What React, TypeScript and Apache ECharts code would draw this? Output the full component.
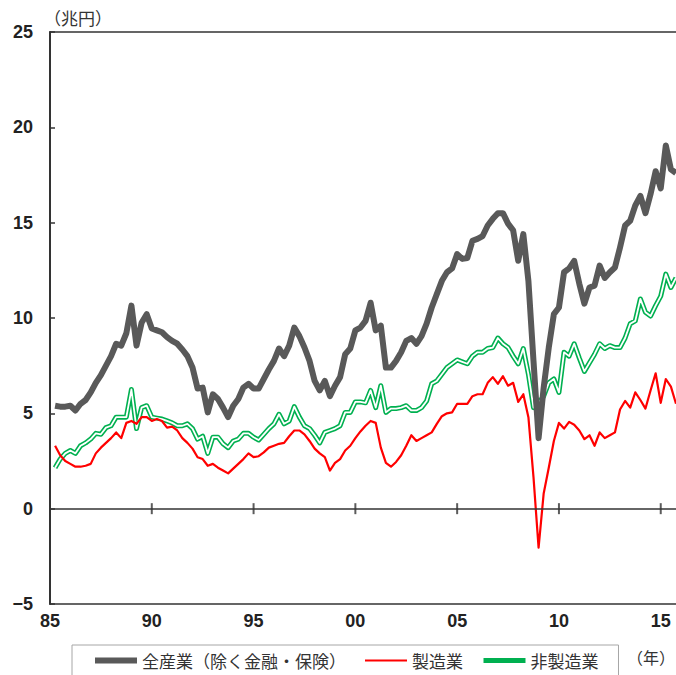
import React, { useEffect, useRef } from "react";
import * as echarts from "echarts";

// Quarterly categories 1985Q1 .. 2015Q4
const firstYear = 1985;
const lastYear = 2015;
const quarters: string[] = [];
for (let y = firstYear; y <= lastYear; y++) {
  for (let q = 1; q <= 4; q++) quarters.push(`${y}Q${q}`);
}
// data begin in 1985Q2
const dataQuarters = quarters.slice(1);

const seriesNames = ["全産業（除く金融・保険）", "製造業", "非製造業"];

// 全産業（除く金融・保険） (兆円)
const allIndustries = [
  5.4, 5.35, 5.35, 5.4, 5.15, 5.5, 5.7, 6.1, 6.6, 7.0, 7.5, 8.0, 8.65, 8.55, 9.2, 10.65, 8.55, 9.75, 10.2, 9.45,
  9.35, 9.25, 9.0, 8.8, 8.65, 8.35, 8.0, 7.4, 6.3, 6.35, 5.05, 6.0, 5.75, 5.3, 4.8, 5.4, 5.75, 6.35, 6.55, 6.3,
  6.3, 6.8, 7.3, 7.75, 8.4, 8.0, 8.55, 9.5, 9.05, 8.45, 7.75, 6.7, 6.2, 6.7, 5.9, 6.45, 6.9, 8.1, 8.4, 9.35,
  9.5, 9.85, 10.8, 9.35, 9.6, 7.4, 7.4, 7.75, 8.2, 8.8, 8.95, 8.65, 9.05, 9.7, 10.55, 11.25, 11.95, 12.4, 12.6, 13.35,
  13.1, 13.15, 14.05, 14.15, 14.3, 14.85, 15.2, 15.5, 15.5, 14.95, 14.6, 13.0, 14.4, 11.95, 7.75, 3.7, 6.35, 8.45, 10.2, 10.55,
  12.4, 12.6, 13.0, 11.8, 10.75, 11.6, 11.7, 12.75, 12.1, 12.4, 12.65, 13.7, 14.85, 15.1, 15.9, 16.4, 15.5, 16.5, 17.7, 16.8,
  19.05, 17.8, 17.6,
];

// 製造業
const manufacturing = [
  3.3, 2.8, 2.5, 2.35, 2.2, 2.2, 2.25, 2.35, 2.9, 3.2, 3.45, 3.7, 4.0, 3.7, 4.5, 4.6, 4.45, 4.8, 4.8, 4.6,
  4.7, 4.6, 4.25, 4.3, 4.1, 3.7, 3.45, 3.15, 2.7, 2.6, 2.25, 2.35, 2.15, 2.0, 1.85, 2.1, 2.35, 2.6, 2.9, 2.7,
  2.75, 2.95, 3.2, 3.3, 3.4, 3.45, 3.8, 4.1, 4.1, 3.9, 3.55, 3.15, 2.9, 2.7, 2.0, 2.4, 2.6, 3.05, 3.3, 3.7,
  4.05, 4.35, 4.6, 4.5, 3.2, 2.4, 2.2, 2.45, 2.8, 3.3, 3.85, 3.55, 3.7, 3.85, 4.0, 4.45, 4.85, 5.0, 5.05, 5.5,
  5.5, 5.5, 5.9, 6.0, 6.0, 6.6, 6.9, 6.55, 6.95, 6.45, 6.6, 5.6, 6.0, 4.8, 1.65, -2.05, 0.8, 2.15, 3.55, 4.5,
  4.2, 4.55, 4.4, 4.1, 3.65, 3.85, 3.3, 4.0, 3.7, 3.85, 4.0, 5.2, 5.65, 5.3, 6.1, 5.7, 5.25, 6.2, 7.1, 5.55,
  6.8, 6.4, 5.5,
];

// 非製造業
const nonManufacturing = [
  2.15, 2.6, 2.9, 3.05, 2.9, 3.3, 3.45, 3.65, 3.95, 3.9, 4.25, 4.35, 4.8, 4.8, 4.8, 6.25, 4.2, 5.3, 5.4, 4.8,
  4.75, 4.7, 4.6, 4.5, 4.35, 4.35, 4.45, 4.2, 3.65, 3.8, 2.9, 3.75, 3.75, 3.4, 3.2, 3.55, 3.65, 3.95, 3.95, 3.75,
  3.6, 3.9, 4.2, 4.45, 4.95, 4.45, 4.6, 5.35, 4.8, 4.35, 4.2, 3.85, 3.45, 4.0, 4.1, 4.2, 4.35, 5.05, 5.05, 5.6,
  5.6, 5.55, 6.2, 5.3, 6.45, 5.05, 5.25, 5.25, 5.3, 5.4, 5.15, 5.15, 5.3, 5.65, 6.55, 6.7, 7.05, 7.4, 7.6, 7.8,
  7.7, 7.6, 8.0, 8.2, 8.2, 8.4, 8.45, 8.95, 8.65, 8.45, 8.0, 7.6, 8.4, 7.05, 5.3, 5.55, 5.9, 6.6, 6.8, 6.1,
  8.2, 8.0, 8.65, 7.9, 7.2, 7.65, 8.1, 8.65, 8.4, 8.55, 8.45, 8.45, 8.95, 9.7, 9.85, 11.0, 10.3, 10.1, 10.65, 11.15,
  12.3, 11.6, 12.1,
];

const xLabelYears = [1985, 1990, 1995, 2000, 2005, 2010, 2015];
const zeroTickYears = [1990, 1995, 2000, 2005, 2010, 2015];
const yMin = -5;
const yMax = 25;
const yStep = 5;

const pair = (vals: number[]) => vals.map((v, i) => [dataQuarters[i], v]);

const isLabelQuarter = (v: string) =>
  v.endsWith("Q1") && xLabelYears.includes(Number(v.slice(0, 4)));

const numFont = "'Liberation Sans', Arial, sans-serif";
const jpFont = "'Noto Sans CJK JP', 'Noto Sans', sans-serif";
const axisColor = "#333333";

export default function App() {
  const ref = useRef<HTMLDivElement>(null);

  useEffect(() => {
    document.body.style.margin = "0";
    if (!ref.current) return;
    const chart = echarts.init(ref.current, undefined, { renderer: "svg" });

    const option: any = {
      animation: false,
      backgroundColor: "#ffffff",
      grid: { left: 50, top: 32, width: 627, height: 572, containLabel: false },
      xAxis: [
        {
          type: "category",
          data: quarters,
          boundaryGap: false,
          position: "bottom",
          axisLine: { onZero: false, lineStyle: { color: axisColor, width: 1.5 } },
          axisTick: { show: false },
          splitLine: { show: false },
          axisLabel: {
            interval: (_i: number, v: string) => isLabelQuarter(v),
            formatter: (v: string) => (isLabelQuarter(v) ? v.slice(2, 4) : ""),
            fontSize: 18,
            fontWeight: "bold",
            fontFamily: numFont,
            color: "#222222",
            margin: 8,
          },
        },
        {
          type: "category",
          data: quarters,
          boundaryGap: false,
          position: "top",
          axisLine: { onZero: false, lineStyle: { color: axisColor, width: 1.5 } },
          axisTick: { show: false },
          axisLabel: { show: false },
          splitLine: { show: false },
        },
      ],
      yAxis: {
        type: "value",
        min: yMin,
        max: yMax,
        interval: yStep,
        axisLine: { show: true, lineStyle: { color: axisColor, width: 2 } },
        axisTick: { show: true, inside: true, length: 5, lineStyle: { color: axisColor, width: 1.5 } },
        splitLine: { show: false },
        axisLabel: {
          formatter: (v: number) => (v < 0 ? "\u2212" + Math.abs(v) : String(v)),
          fontSize: 18,
          fontWeight: "bold",
          fontFamily: numFont,
          color: "#222222",
          margin: 17,
        },
      },
      legend: {
        left: 72,
        top: 645,
        padding: [7, 20, 7, 20],
        itemWidth: 42,
        itemHeight: 16,
        itemGap: 18,
        borderColor: "#a6a6a6",
        borderWidth: 1,
        selectedMode: false,
        textStyle: { fontSize: 17, color: "#333333", fontFamily: jpFont },
        data: [
          { name: seriesNames[0], itemStyle: { opacity: 0 }, lineStyle: { width: 6, color: "#595959" } },
          { name: seriesNames[1], itemStyle: { opacity: 0 }, lineStyle: { width: 2, color: "#ff0000" } },
          { name: seriesNames[2], itemStyle: { opacity: 0 }, lineStyle: { width: 5, color: "#00b050" } },
        ],
      },
      graphic: [
        {
          type: "text",
          left: 44,
          top: 9,
          style: { text: "（兆円）", fontSize: 17, fill: "#333333", fontFamily: jpFont },
        },
        {
          type: "text",
          left: 627,
          top: 649,
          style: { text: "（年）", fontSize: 16, fill: "#333333", fontFamily: jpFont },
        },
      ],
      series: [
        {
          name: seriesNames[2],
          type: "line",
          data: pair(nonManufacturing),
          symbol: "none",
          lineStyle: { color: "#00b050", width: 5, join: "round" },
          itemStyle: { color: "#00b050" },
          z: 2,
        },
        {
          name: "非製造業_inner",
          type: "line",
          data: pair(nonManufacturing),
          symbol: "none",
          lineStyle: { color: "#ffffff", width: 1.8, join: "round" },
          itemStyle: { color: "#ffffff" },
          z: 3,
        },
        {
          name: seriesNames[1],
          type: "line",
          data: pair(manufacturing),
          symbol: "none",
          lineStyle: { color: "#ff0000", width: 2.2, join: "round" },
          itemStyle: { color: "#ff0000" },
          z: 4,
        },
        {
          name: seriesNames[0],
          type: "line",
          data: pair(allIndustries),
          symbol: "none",
          lineStyle: { color: "#595959", width: 6, join: "round" },
          itemStyle: { color: "#595959" },
          z: 5,
        },
        {
          name: "zeroTicks",
          type: "scatter",
          data: zeroTickYears.map((y) => [`${y}Q1`, 0]),
          symbol: "rect",
          symbolSize: [2, 11],
          itemStyle: { color: axisColor },
          silent: true,
          z: 1,
          markLine: {
            silent: true,
            symbol: "none",
            label: { show: false },
            lineStyle: { color: axisColor, width: 1.5, type: "solid" },
            data: [{ yAxis: 0 }],
          },
        },
      ],
    };

    chart.setOption(option);
    return () => chart.dispose();
  }, []);

  return <div ref={ref} style={{ width: 676, height: 675 }} />;
}
